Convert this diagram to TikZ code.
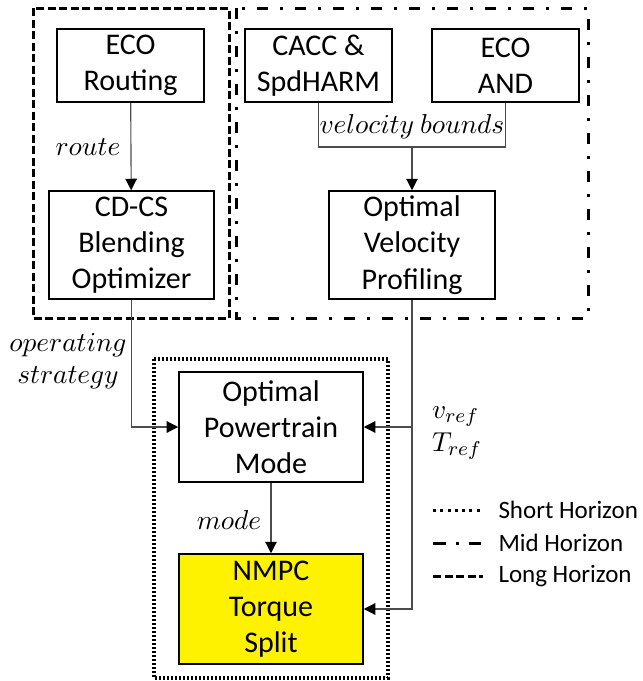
\documentclass[tikz,border=0pt]{standalone}
\usepackage{fontspec}
\setmainfont{Carlito}
\usepackage{amsmath}
\usetikzlibrary{arrows.meta, positioning, calc}

\begin{document}
\begin{tikzpicture}[x=0.4pt, y=-0.4pt,
		block/.style={draw, line width=0.6pt, align=center, inner sep=0pt, font=\fontsize{12}{14.5}\selectfont},
		conn/.style={draw=black!70, line width=0.45pt},
		arr/.style={conn, -{Triangle[length=4.6pt, width=4.6pt, color=black]}},
		lbl/.style={font=\fontsize{10.95}{13}\selectfont, inner sep=1pt},
		legtext/.style={anchor=west, inner sep=0pt, font=\fontsize{10}{12}\selectfont},
		longframe/.style={line width=1.2pt, dash pattern=on 3.2pt off 1.4pt},
		midframe/.style={line width=1.2pt, dash pattern=on 4.4pt off 4.8pt on 1.2pt off 4.8pt},
		shortframe/.style={line width=1.3pt, dash pattern=on 0.8pt off 0.8pt}]
	\useasboundingbox (0,0) rectangle (642,681);

	% horizon frames
	\draw[longframe] (33,8) rectangle (229,318);
	\draw[midframe] (236,8) rectangle (588,318);
	\draw[shortframe] (154,359) rectangle (388,678);

	% blocks
	\node[block, minimum width=58.8pt, minimum height=29.2pt] (ecoroute) at (130.5,65.5) {ECO\\Routing};
	\node[block, minimum width=66pt, minimum height=43.2pt] (cdcs) at (131.5,245) {CD-CS\\Blending\\Optimizer};
	\node[block, minimum width=58.8pt, minimum height=29.2pt] (cacc) at (318.5,65.5) {CACC \&\\SpdHARM};
	\node[block, minimum width=58.8pt, minimum height=29.2pt] (ecoand) at (505.5,65.5) {ECO\\AND};
	\node[block, minimum width=66.4pt, minimum height=43.2pt] (ovp) at (412,245) {Optimal\\Velocity\\Profiling};
	\node[block, minimum width=73.6pt, minimum height=44pt] (opm) at (271,427) {Optimal\\Powertrain\\Mode};
	\node[block, fill=yellow, minimum width=73.6pt, minimum height=44pt] (nmpc) at (271,609) {NMPC\\Torque\\Split};

	% signals
	\coordinate (vbj) at (412,147);
	\draw[conn] (cacc.south) |- (vbj) -| (ecoand.south);
	\node[lbl] (vb) at (412,127) {$velocity\ bounds$};
	\draw[arr] (vbj) -- (ovp.north);

	\draw[arr] (ecoroute) -- (cdcs);
	\node[lbl] (route) at (88,147) {$route$};

	\draw[arr] (cdcs.south) |- (opm.west);
	\node[lbl, align=center, font=\fontsize{10.95}{12.8}\selectfont] (opstrat) at (68,361) {$operating$\\$strategy$};

	\draw[arr] (ovp.south) |- (opm.east);
	\draw[arr] (ovp.south) |- (nmpc.east);
	\node[lbl, align=left, anchor=west, font=\fontsize{10.95}{13.2}\selectfont] (vref) at (429,433) {$v_{ref}$\\$T_{ref}$};

	\draw[arr] (opm) -- (nmpc);
	\node[lbl] (mode) at (229,520) {$mode$};

	% legend
	\draw[shortframe, dash pattern=on 1.2pt off 1.7pt, line width=1.2pt] (433,510) -- (483,510);
	\draw[midframe, dash pattern=on 5pt off 4pt on 1.2pt off 4pt] (433,543) -- (483,543);
	\draw[longframe] (433,576) -- (483,576);
	\node[legtext] (legshort) at (498,510) {Short Horizon};
	\node[legtext] (legmid) at (498,543) {Mid Horizon};
	\node[legtext] (leglong) at (498,576) {Long Horizon};
\end{tikzpicture}
\end{document}
